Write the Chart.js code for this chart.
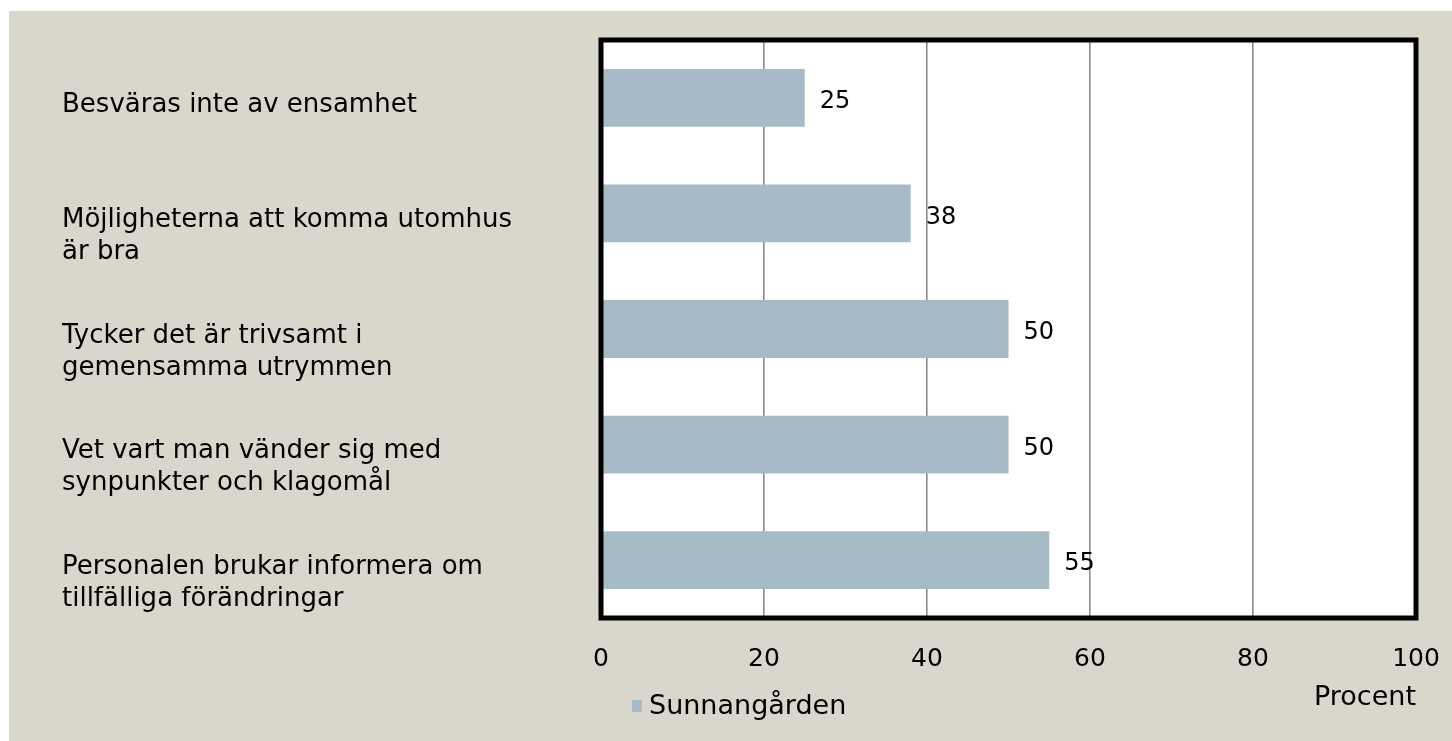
<!DOCTYPE html>
<html>
<head>
<meta charset="utf-8">
<script src="https://cdn.jsdelivr.net/npm/chart.js@4/dist/chart.umd.min.js"></script>
<style>
  html, body { margin: 0; padding: 0; background: #ffffff; }
  #wrap { position: absolute; left: 9px; top: 11px; width: 1443px; height: 730px; background: #d9d7cb; }
</style>
</head>
<body>
<div id="wrap"><canvas id="chart" width="1443" height="730"></canvas></div>
<script>
const categories = [
    ['Besväras inte av ensamhet', ''],
    ['Möjligheterna att komma utomhus', 'är bra'],
    ['Tycker det är trivsamt i', 'gemensamma utrymmen'],
    ['Vet vart man vänder sig med', 'synpunkter och klagomål'],
    ['Personalen brukar informera om', 'tillfälliga förändringar']
];
const seriesName = 'Sunnangården';
const values = [25, 38, 50, 50, 55];
const xTicks = [0, 20, 40, 60, 80, 100];
const axisTitle = 'Procent';

const fontFamily = '"DejaVu Sans", sans-serif';
const barColor = '#a7bbc6';

// white plot area, black frame, value labels and the legend
const decor = {
    id: 'decor',
    beforeDraw(chart) {
        const { ctx, chartArea: a } = chart;
        ctx.save();
        ctx.fillStyle = '#ffffff';
        ctx.fillRect(a.left, a.top, a.right - a.left, a.bottom - a.top);
        ctx.restore();
    },
    afterDatasetsDraw(chart) {
        const { ctx, chartArea: a } = chart;
        ctx.save();
        ctx.font = '24px ' + fontFamily;
        ctx.fillStyle = '#000000';
        ctx.textAlign = 'left';
        ctx.textBaseline = 'middle';
        chart.getDatasetMeta(0).data.forEach((bar, i) => {
            ctx.fillText(String(values[i]), bar.x + 15, bar.y + 4);
        });

        ctx.strokeStyle = '#000000';
        ctx.lineWidth = 5;
        ctx.strokeRect(a.left, a.top, a.right - a.left, a.bottom - a.top);

        // legend
        ctx.fillStyle = barColor;
        ctx.fillRect(a.left + 31, a.bottom + 82, 10, 12);
        ctx.fillStyle = '#000000';
        ctx.font = '27px ' + fontFamily;
        ctx.fillText(seriesName, a.left + 48, a.bottom + 89);
        ctx.restore();
    }
};

new Chart(document.getElementById('chart'), {
    type: 'bar',
    data: {
        labels: categories,
        datasets: [{
            label: seriesName,
            data: values,
            backgroundColor: barColor,
            barPercentage: 0.5,
            categoryPercentage: 1
        }]
    },
    options: {
        indexAxis: 'y',
        responsive: false,
        animation: false,
        layout: { padding: { left: 53, top: 29, right: 36, bottom: 0 } },
        plugins: {
            legend: { display: false },
            tooltip: { enabled: false }
        },
        scales: {
            x: {
                min: 0,
                max: 100,
                afterBuildTicks(scale) {
                    scale.ticks = xTicks.map(v => ({ value: v }));
                },
                afterFit(scale) {
                    scale.height = 123;
                    scale.paddingLeft = 0;
                    scale.paddingRight = 0;
                },
                grid: { color: '#8a8a8a', lineWidth: 1.6, drawTicks: false },
                border: { display: false },
                ticks: {
                    color: '#000000',
                    padding: 26,
                    font: { family: fontFamily, size: 25 }
                },
                title: {
                    display: true,
                    text: axisTitle,
                    align: 'end',
                    color: '#000000',
                    padding: { top: 0, bottom: 27 },
                    font: { family: fontFamily, size: 27 }
                }
            },
            y: {
                afterFit(scale) {
                    scale.width = 539;
                    scale.paddingTop = 0;
                    scale.paddingBottom = 0;
                },
                grid: { display: false },
                border: { display: false },
                ticks: {
                    color: '#000000',
                    crossAlign: 'far',
                    labelOffset: 23,
                    font: { family: fontFamily, size: 26, lineHeight: 1.23 }
                }
            }
        }
    },
    plugins: [decor]
});
</script>
</body>
</html>
